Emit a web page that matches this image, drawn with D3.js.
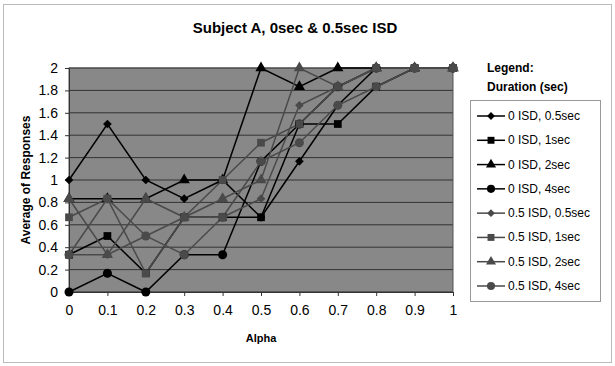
<!DOCTYPE html>
<html>
<head>
<meta charset="utf-8">
<script src="https://cdn.jsdelivr.net/npm/d3@7"></script>
<style>
  body { margin: 0; background: #fff; }
  svg { font-family: Arial, "Liberation Sans", sans-serif; }
</style>
</head>
<body>
<script>
(function(){

// data
var alphas = [0, 0.1, 0.2, 0.3, 0.4, 0.5, 0.6, 0.7, 0.8, 0.9, 1];
var yTicks = [0, 0.2, 0.4, 0.6, 0.8, 1, 1.2, 1.4, 1.6, 1.8, 2];
var seriesNames = ["0 ISD, 0.5sec", "0 ISD, 1sec", "0 ISD, 2sec", "0 ISD, 4sec",
                   "0.5 ISD, 0.5sec", "0.5 ISD, 1sec", "0.5 ISD, 2sec", "0.5 ISD, 4sec"];
var isd0_05 = [1, 1.5, 1, 0.833, 1, 0.667, 1.167, 1.667, 2, 2, 2];
var isd0_1  = [0.333, 0.5, 0.167, 0.667, 0.667, 0.667, 1.5, 1.5, 1.833, 2, 2];
var isd0_2  = [0.833, 0.833, 0.833, 1, 1, 2, 1.833, 2, 2, 2, 2];
var isd0_4  = [0, 0.167, 0, 0.333, 0.333, 1.167, 1.5, 1.833, 2, 2, 2];
var isd5_05 = [0.333, 0.333, 0.5, 0.667, 0.667, 0.833, 1.667, 1.833, 2, 2, 2];
var isd5_1  = [0.667, 0.833, 0.167, 0.667, 1, 1.333, 1.5, 1.833, 2, 2, 2];
var isd5_2  = [0.833, 0.333, 0.833, 0.667, 0.833, 1, 2, 1.833, 2, 2, 2];
var isd5_4  = [0.333, 0.833, 0.5, 0.333, 0.667, 1.167, 1.333, 1.667, 1.833, 2, 2];
var allValues = [isd0_05, isd0_1, isd0_2, isd0_4, isd5_05, isd5_1, isd5_2, isd5_4];

var diamond = d3.symbolDiamond2 || d3.symbolDiamond;
var shapes = [diamond, d3.symbolSquare, d3.symbolTriangle, d3.symbolCircle,
              diamond, d3.symbolSquare, d3.symbolTriangle, d3.symbolCircle];
var sizes = [48, 60, 55, 64, 48, 60, 55, 64];
var colors = ["#000", "#000", "#000", "#000", "#4a4a4a", "#4a4a4a", "#4a4a4a", "#4a4a4a"];

var width = 615, height = 366;
var svg = d3.select("body").append("svg")
    .attr("width", width)
    .attr("height", height);

// outer chart frame
svg.append("rect")
    .attr("x", 3.5).attr("y", 4.5)
    .attr("width", 608).attr("height", 358)
    .attr("fill", "#fff")
    .attr("stroke", "#bbb");

var x = d3.scaleLinear().domain([0, 1]).range([69, 453]);
var y = d3.scaleLinear().domain([0, 2]).range([292, 68]);

// plot area
svg.append("rect")
    .attr("x", x(0)).attr("y", y(2))
    .attr("width", x(1) - x(0)).attr("height", y(0) - y(2))
    .attr("fill", "#888");

// gridlines
svg.selectAll(".grid")
    .data(yTicks)
    .enter().append("line")
    .attr("class", "grid")
    .attr("x1", x(0)).attr("x2", x(1))
    .attr("y1", function(d){ return y(d); })
    .attr("y2", function(d){ return y(d); })
    .attr("stroke", "#333")
    .attr("stroke-width", 1);

// plot border
svg.append("rect")
    .attr("x", x(0)).attr("y", y(2))
    .attr("width", x(1) - x(0)).attr("height", y(0) - y(2))
    .attr("fill", "none")
    .attr("stroke", "#555");

// axes
var yAxis = svg.append("g")
    .attr("transform", "translate(" + x(0) + ",0)")
    .call(d3.axisLeft(y).tickValues(yTicks).tickSize(4).tickPadding(7)
        .tickFormat(function(d){ return d3.format("~g")(d); }));
var xAxis = svg.append("g")
    .attr("transform", "translate(0," + y(0) + ")")
    .call(d3.axisBottom(x).tickValues(alphas).tickSize(4).tickPadding(9)
        .tickFormat(function(d){ return d3.format("~g")(d); }));
[yAxis, xAxis].forEach(function(a){
    a.select(".domain").attr("stroke", "#333");
    a.selectAll(".tick line").attr("stroke", "#333");
    a.selectAll(".tick text")
        .attr("fill", "#000")
        .style("font-size", "14px")
        .style("font-family", "Arial, 'Liberation Sans', sans-serif");
});

// series lines + markers
var line = d3.line()
    .x(function(d, i){ return x(alphas[i]); })
    .y(function(d){ return y(d); });

allValues.forEach(function(vals, s){
    svg.append("path")
        .datum(vals)
        .attr("fill", "none")
        .attr("stroke", colors[s])
        .attr("stroke-width", 1.5)
        .attr("d", line);
});
allValues.forEach(function(vals, s){
    svg.selectAll(".m" + s)
        .data(vals)
        .enter().append("path")
        .attr("class", "m" + s)
        .attr("transform", function(d, i){ return "translate(" + x(alphas[i]) + "," + y(d) + ")"; })
        .attr("d", d3.symbol().type(shapes[s]).size(sizes[s]))
        .attr("fill", colors[s]);
});

// titles
svg.append("text")
    .attr("x", 295).attr("y", 33)
    .attr("text-anchor", "middle")
    .style("font-size", "15px").style("font-weight", "bold")
    .text("Subject A, 0sec & 0.5sec ISD");

svg.append("text")
    .attr("x", 261).attr("y", 342)
    .attr("text-anchor", "middle")
    .style("font-size", "11px").style("font-weight", "bold")
    .text("Alpha");

svg.append("text")
    .attr("transform", "translate(30,180) rotate(-90)")
    .attr("text-anchor", "middle")
    .style("font-size", "12px").style("font-weight", "bold")
    .text("Average of Responses");

// legend
svg.append("text")
    .attr("x", 487).attr("y", 72)
    .style("font-size", "12px").style("font-weight", "bold")
    .text("Legend:");
svg.append("text")
    .attr("x", 487).attr("y", 91)
    .style("font-size", "12px").style("font-weight", "bold")
    .text("Duration (sec)");

svg.append("rect")
    .attr("x", 470.5).attr("y", 100.5)
    .attr("width", 130).attr("height", 201)
    .attr("fill", "#fff")
    .attr("stroke", "#999");

var ly = d3.scalePoint().domain(seriesNames).range([116, 286]);
var items = svg.selectAll(".leg")
    .data(seriesNames)
    .enter().append("g")
    .attr("class", "leg")
    .attr("transform", function(d){ return "translate(0," + ly(d) + ")"; });
items.append("line")
    .attr("x1", 477).attr("x2", 505)
    .attr("stroke", function(d, i){ return colors[i]; })
    .attr("stroke-width", 1.5);
items.append("path")
    .attr("transform", "translate(491,0)")
    .attr("d", function(d, i){ return d3.symbol().type(shapes[i]).size(sizes[i] * 0.8)(); })
    .attr("fill", function(d, i){ return colors[i]; });
items.append("text")
    .attr("x", 508).attr("y", 4)
    .style("font-size", "12px")
    .text(function(d){ return d; });

})();
</script>
</body>
</html>
